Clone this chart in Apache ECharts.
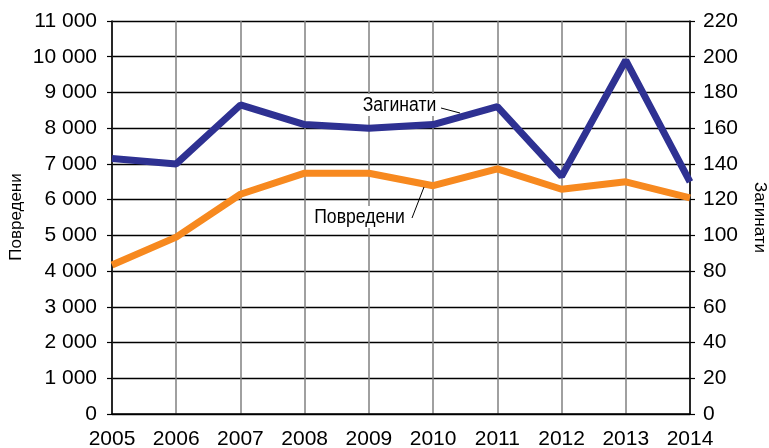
<!DOCTYPE html>
<html><head><meta charset="utf-8">
<script src="https://cdn.jsdelivr.net/npm/echarts@6/dist/echarts.min.js"></script>
<style>html,body{margin:0;padding:0;background:#fff}#c{width:769px;height:448px}</style>
</head><body><div id="c"></div>
<script>
var years = ['2005','2006','2007','2008','2009','2010','2011','2012','2013','2014'];
var povredeni = [4170, 4950, 6150, 6740, 6740, 6390, 6860, 6290, 6500, 6050];
var zaginati = [143, 140, 173, 162, 160, 162, 172, 133, 198, 130];
var leftName = 'Повредени';
var rightName = 'Загинати';

function fmt(v){ return String(v).replace(/\B(?=(\d{3})+(?!\d))/g, ' '); }

var chart = echarts.init(document.getElementById('c'), null, {renderer:'canvas'});
var F = 'Liberation Sans, Arial, sans-serif';
chart.setOption({
  animation:false,
  grid:{left:112, right:79, top:21, bottom:34, containLabel:false, outerBoundsMode:'none'},
  xAxis:{type:'category', data:years, boundaryGap:false,
    axisLine:{lineStyle:{color:'#000', width:1.5}},
    axisTick:{show:false},
    axisLabel:{color:'#000', fontSize:21, fontFamily:F, margin:15, hideOverlap:false},
    splitLine:{show:true, lineStyle:{color:'#808080', width:1.5}}},
  yAxis:[
    {type:'value', min:0, max:11000, interval:1000, position:'left',
     axisLine:{show:true, lineStyle:{color:'#000', width:1.5}},
     axisTick:{show:true, length:5, lineStyle:{color:'#000', width:1.2}},
     axisLabel:{color:'#000', fontSize:21, fontFamily:F, margin:15, formatter:fmt},
     splitLine:{show:true, lineStyle:{color:'#000', width:1.3}}},
    {type:'value', min:0, max:220, interval:20, position:'right',
     name:rightName, nameLocation:'middle', nameRotate:-90, nameGap:61,
     nameTextStyle:{color:'#000', fontSize:17, fontFamily:F},
     axisLine:{show:true, lineStyle:{color:'#000', width:1.5}},
     axisTick:{show:true, length:5, lineStyle:{color:'#000', width:1.2}},
     axisLabel:{color:'#000', fontSize:21, fontFamily:F, margin:13},
     splitLine:{show:false}}
  ],
  series:[
    {type:'line', name:leftName, yAxisIndex:0, data:povredeni, symbol:'none',
     lineStyle:{color:'#f7891f', width:7}, z:3},
    {type:'line', name:rightName, yAxisIndex:1, data:zaginati, symbol:'none',
     lineStyle:{color:'#2e3192', width:7}, z:4}
  ],
  graphic:[
    {type:'text', x:16, y:217, rotation:Math.PI/2, z:10,
     style:{text:leftName, x:0, y:0, align:'center', verticalAlign:'middle', fontSize:17, fontFamily:F, fill:'#000'}},
    {type:'text', x:399.5, y:105, scaleX:0.88, z:10,
     style:{text:rightName, x:0, y:0, align:'center', verticalAlign:'middle', fontSize:20, fontFamily:F, fill:'#000', backgroundColor:'#fff', padding:[1,3,1,3]}},
    {type:'line', z:10, shape:{x1:441, y1:108, x2:460, y2:113}, style:{stroke:'#000', lineWidth:1}},
    {type:'text', x:359.5, y:217, scaleX:0.88, z:10,
     style:{text:leftName, x:0, y:0, align:'center', verticalAlign:'middle', fontSize:20, fontFamily:F, fill:'#000', backgroundColor:'#fff', padding:[1,3,1,3]}},
    {type:'line', z:10, shape:{x1:412, y1:218, x2:424, y2:187}, style:{stroke:'#000', lineWidth:1}}
  ]
});
</script></body></html>
